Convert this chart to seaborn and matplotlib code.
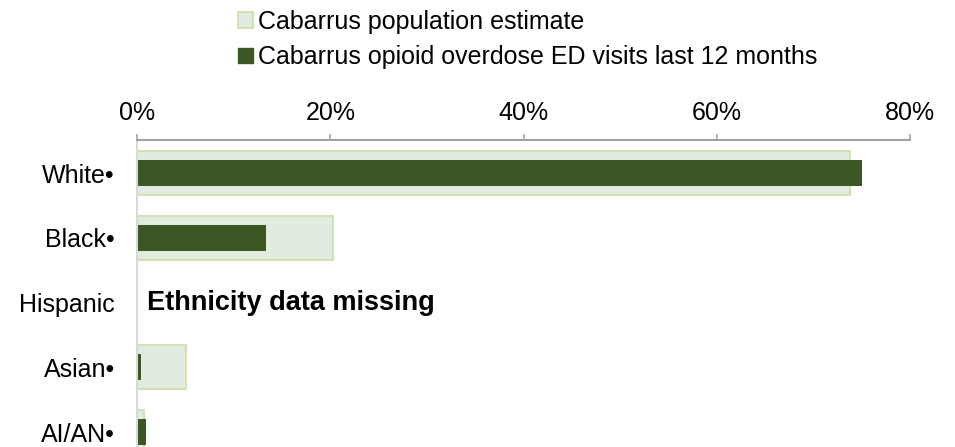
import numpy as np
import pandas as pd
import matplotlib.pyplot as plt
import seaborn as sns
from matplotlib.patches import Patch
from matplotlib.ticker import PercentFormatter

# Data
groups = ['White\u2022', 'Black\u2022', 'Hispanic', 'Asian\u2022', 'AI/AN\u2022']
population = [73.8, 20.3, np.nan, 5.1, 0.7]
ed_visits = [75.0, 13.3, np.nan, 0.4, 0.9]
x_ticks = [0, 20, 40, 60, 80]

light_fill = '#e1ebdf'
light_edge = '#d3e2b6'
dark_fill = '#3d5724'

sns.set_style('white')
plt.rcParams['font.family'] = ['Liberation Sans', 'DejaVu Sans']
plt.rcParams['text.color'] = 'black'
plt.rcParams['xtick.labelcolor'] = 'black'
plt.rcParams['ytick.labelcolor'] = 'black'

df = pd.DataFrame({'group': groups, 'population': population, 'ed': ed_visits})

fig = plt.figure(figsize=(9.55, 4.47), dpi=100)
ax = fig.add_axes([137 / 955, 0, (910 - 137) / 955, (447 - 140) / 447])

sns.barplot(data=df, x='population', y='group', orient='h', color=light_fill,
            edgecolor=light_edge, linewidth=1.5, width=0.68, saturation=1, ax=ax)
sns.barplot(data=df, x='ed', y='group', orient='h', color=dark_fill,
            width=0.4, saturation=1, linewidth=0, ax=ax)

ax.set_xlim(0, 80)
ax.set_ylim(4.23, -0.51)
ax.set_xticks(x_ticks)
ax.xaxis.set_major_formatter(PercentFormatter(decimals=0))
ax.xaxis.tick_top()
ax.tick_params(axis='x', direction='out', length=4.5, width=1.1, color='#a0a0a0',
               labelsize=18, pad=6)
ax.tick_params(axis='y', length=0, labelsize=18, pad=16)
ax.set_xlabel('')
ax.set_ylabel('')

for side in ['right', 'bottom']:
    ax.spines[side].set_visible(False)
ax.spines['top'].set_color('#a0a0a0')
ax.spines['top'].set_linewidth(1.5)
ax.spines['left'].set_color('#d9d9d9')
ax.spines['left'].set_linewidth(1.5)

ax.text(1.0, 2, 'Ethnicity data missing', fontsize=19.5, fontweight='bold',
        va='center', ha='left')

handles = [Patch(facecolor=light_fill, edgecolor=light_edge, linewidth=1.5,
                 label='Cabarrus population estimate'),
           Patch(facecolor=dark_fill, edgecolor=dark_fill,
                 label='Cabarrus opioid overdose ED visits last 12 months')]
fig.legend(handles=handles, loc='upper left',
           bbox_to_anchor=(235 / 955, 1.0 - 7 / 447),
           frameon=False, fontsize=18, handlelength=0.6, handleheight=0.6,
           handletextpad=0.2, labelspacing=0.47, borderaxespad=0.0,
           borderpad=0.1)

fig.savefig('out.png', dpi=100)
